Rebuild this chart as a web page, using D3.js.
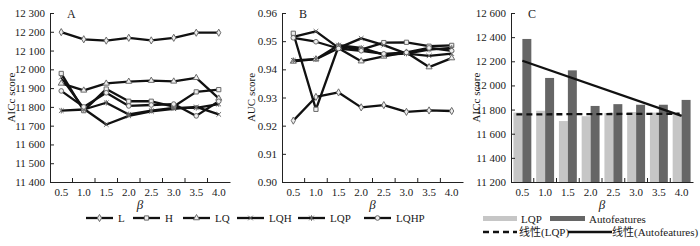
<!DOCTYPE html>
<html>
<head>
<meta charset="utf-8">
<script src="https://cdn.jsdelivr.net/npm/d3@7"></script>
<style>
  body { margin: 0; background: #fff; }
  svg text { font-family: "Liberation Serif", "Times New Roman", "Noto Sans CJK SC", serif; fill: #1a1a1a; }
</style>
</head>
<body>
<svg id="chart" width="700" height="246"></svg>
<script>
// beta values shared by all three panels
const betas = ["0.5", "1.0", "1.5", "2.0", "2.5", "3.0", "3.5", "4.0"];
const seriesNames = ["L", "H", "LQ", "LQH", "LQP", "LQHP"];
const markerShapes = ["diamond", "square", "triangle", "x", "asterisk", "circle"];

// panel A: AICc score
const aicL = [12198, 12160, 12153, 12168, 12154, 12168, 12195, 12195];
const aicH = [11978, 11780, 11895, 11830, 11830, 11802, 11880, 11892];
const aicLQ = [11925, 11888, 11925, 11935, 11940, 11936, 11955, 11845];
const aicLQH = [11958, 11790, 11706, 11752, 11776, 11790, 11800, 11760];
const aicLQP = [11780, 11786, 11822, 11760, 11780, 11795, 11795, 11815];
const aicLQHP = [11885, 11800, 11875, 11805, 11810, 11815, 11752, 11830];
const aicTicks = [11400, 11500, 11600, 11700, 11800, 11900, 12000, 12100, 12200, 12300];

// panel B: AUC score
const aucL = [0.9218, 0.9302, 0.9318, 0.9265, 0.9273, 0.9249, 0.9254, 0.9252];
const aucH = [0.9528, 0.9258, 0.9482, 0.9470, 0.9495, 0.9496, 0.9482, 0.9485];
const aucLQ = [0.9428, 0.9436, 0.9475, 0.9429, 0.9446, 0.9460, 0.9408, 0.9440];
const aucLQH = [0.9515, 0.9535, 0.9476, 0.9510, 0.9486, 0.9456, 0.9448, 0.9456];
const aucLQP = [0.9432, 0.9436, 0.9486, 0.9476, 0.9452, 0.9456, 0.9470, 0.9476];
const aucLQHP = [0.9512, 0.9498, 0.9474, 0.9466, 0.9455, 0.9460, 0.9476, 0.9466];
const aucTicks = [0.90, 0.91, 0.92, 0.93, 0.94, 0.95, 0.96];

// panel C: bars
const barLQP = [11775, 11790, 11705, 11745, 11772, 11780, 11775, 11760];
const barAuto = [12385, 12062, 12125, 11830, 11845, 11840, 11840, 11880];
const barTicks = [11200, 11400, 11600, 11800, 12000, 12200, 12400, 12600];

const lightGrey = "#c6c6c6";
const darkGrey = "#666666";
const lineColor = "#111";
const markerStroke = "#6a6a6a";

const svg = d3.select("svg#chart");
const fmtAic = d3.formatLocale({ decimal: ".", thousands: " ", grouping: [3], currency: ["", ""] }).format(",d");
const fmtAuc = d3.format(".2f");

const plotTop = 13;
const plotBottom = 182;

// draw marker symbols centred at 0,0
function markerPath(shape) {
  const r = 2.3;
  if (shape === "diamond") return d3.symbol(d3.symbolDiamond, 15)();
  if (shape === "square") return d3.symbol(d3.symbolSquare, 18)();
  if (shape === "triangle") return d3.symbol(d3.symbolTriangle, 16)();
  if (shape === "circle") return d3.symbol(d3.symbolCircle, 17)();
  if (shape === "x") return `M${-r},${-r}L${r},${r}M${-r},${r}L${r},${-r}`;
  // asterisk
  return `M${-r},${-r}L${r},${r}M${-r},${r}L${r},${-r}M0,${-r - 0.5}L0,${r + 0.5}`;
}

function drawAxes(g, x, y, ticks, fmt, yLabel, labelX, letter) {
  const left = x.range()[0];
  const right = x.range()[1];

  g.append("g")
    .attr("transform", `translate(${left},0)`)
    .call(d3.axisLeft(y).tickValues(ticks).tickFormat(fmt).tickSize(-4).tickSizeOuter(0).tickPadding(5))
    .call((a) => a.selectAll("text").attr("font-size", 11).attr("font-family", null))
    .call((a) => a.selectAll("line, path").attr("stroke", "#222"));

  g.append("g")
    .attr("transform", `translate(0,${plotBottom})`)
    .call(d3.axisBottom(x).tickSize(0).tickSizeOuter(0).tickPadding(6))
    .call((a) => a.selectAll("text").attr("font-size", 11).attr("font-family", null))
    .call((a) => a.select("path").attr("stroke", "#222"));

  // ticks sit between the beta categories, pointing inward
  g.selectAll("line.xtick")
    .data(betas.slice(1))
    .join("line")
    .attr("class", "xtick")
    .attr("x1", (d) => x(d))
    .attr("x2", (d) => x(d))
    .attr("y1", plotBottom)
    .attr("y2", plotBottom - 4)
    .attr("stroke", "#222");

  g.append("text")
    .attr("transform", `translate(${labelX},${(plotTop + plotBottom) / 2}) rotate(-90)`)
    .attr("text-anchor", "middle")
    .attr("dominant-baseline", "central")
    .attr("font-size", 11)
    .text(yLabel);

  g.append("text")
    .attr("x", left + 17)
    .attr("y", plotTop + 1)
    .attr("dominant-baseline", "central")
    .attr("font-size", 12)
    .text(letter);

  g.append("text")
    .attr("x", (left + right) / 2)
    .attr("y", 204)
    .attr("text-anchor", "middle")
    .attr("dominant-baseline", "central")
    .attr("font-size", 13)
    .attr("font-style", "italic")
    .text("β");
}

function drawLinePanel(left, width, domain, ticks, fmt, yLabel, labelX, letter, series) {
  const x = d3.scaleBand().domain(betas).range([left, left + width]);
  const y = d3.scaleLinear().domain(domain).range([plotBottom, plotTop]);
  const g = svg.append("g");
  drawAxes(g, x, y, ticks, fmt, yLabel, labelX, letter);

  const line = d3.line()
    .x((d, i) => x(betas[i]) + x.bandwidth() / 2)
    .y((d) => y(d));

  series.forEach((vals) => {
    g.append("path")
      .attr("d", line(vals))
      .attr("fill", "none")
      .attr("stroke", lineColor)
      .attr("stroke-width", 2.3)
      .attr("stroke-linejoin", "round");
  });
  series.forEach((vals, si) => {
    g.selectAll(null)
      .data(vals)
      .join("path")
      .attr("transform", (d, i) => `translate(${x(betas[i]) + x.bandwidth() / 2},${y(d)})`)
      .attr("d", markerPath(markerShapes[si]))
      .attr("fill", "#eee")
      .attr("stroke", markerStroke)
      .attr("stroke-width", 1);
  });
}

drawLinePanel(50, 180, [11400, 12300], aicTicks, fmtAic, "AICc score", 11, "A",
  [aicL, aicH, aicLQ, aicLQH, aicLQP, aicLQHP]);
drawLinePanel(282, 181, [0.90, 0.96], aucTicks, fmtAuc, "AUC score", 251, "B",
  [aucL, aucH, aucLQ, aucLQH, aucLQP, aucLQHP]);

// panel C: grouped bars with linear trend lines
const xC = d3.scaleBand().domain(betas).range([511, 693]);
const xInner = d3.scaleBand().domain(["LQP", "Autofeatures"]).range([0, xC.bandwidth()]).paddingOuter(0.27);
const yC = d3.scaleLinear().domain([11200, 12600]).range([plotBottom, plotTop]);
const gC = svg.append("g");

gC.selectAll("rect.lqp")
  .data(barLQP)
  .join("rect")
  .attr("class", "lqp")
  .attr("x", (d, i) => xC(betas[i]) + xInner("LQP"))
  .attr("width", xInner.bandwidth())
  .attr("y", (d) => yC(d))
  .attr("height", (d) => plotBottom - yC(d))
  .attr("fill", lightGrey);

gC.selectAll("rect.auto")
  .data(barAuto)
  .join("rect")
  .attr("class", "auto")
  .attr("x", (d, i) => xC(betas[i]) + xInner("Autofeatures"))
  .attr("width", xInner.bandwidth())
  .attr("y", (d) => yC(d))
  .attr("height", (d) => plotBottom - yC(d))
  .attr("fill", darkGrey);

// least squares fit over the category index
function linearFit(vals) {
  const n = vals.length;
  const xs = vals.map((d, i) => i);
  const mx = d3.mean(xs);
  const my = d3.mean(vals);
  const slope = d3.sum(xs, (v, i) => (v - mx) * (vals[i] - my)) / d3.sum(xs, (v) => (v - mx) ** 2);
  return [my - slope * mx, my + slope * (n - 1 - mx)];
}

const fitLQP = linearFit(barLQP);
const fitAuto = linearFit(barAuto);
const cx0 = xC(betas[0]) + xC.bandwidth() / 2;
const cx1 = xC(betas[betas.length - 1]) + xC.bandwidth() / 2;

gC.append("line")
  .attr("x1", cx0 - 6).attr("x2", cx1 - 2)
  .attr("y1", yC(fitLQP[0])).attr("y2", yC(fitLQP[1]))
  .attr("stroke", lineColor).attr("stroke-width", 2.3)
  .attr("stroke-dasharray", "6,4");

gC.append("line")
  .attr("x1", cx0).attr("x2", cx1)
  .attr("y1", yC(fitAuto[0])).attr("y2", yC(fitAuto[1]))
  .attr("stroke", lineColor).attr("stroke-width", 2.3);

drawAxes(gC, xC, yC, barTicks, fmtAic, "AICc score", 476, "C");

// legend for panels A and B
const legendXs = [86, 133, 183, 237, 298, 364];
const legend = svg.append("g");
seriesNames.forEach((name, i) => {
  const lx = legendXs[i];
  legend.append("line")
    .attr("x1", lx).attr("x2", lx + 27)
    .attr("y1", 218).attr("y2", 218)
    .attr("stroke", lineColor).attr("stroke-width", 2.3);
  legend.append("path")
    .attr("transform", `translate(${lx + 13.5},218)`)
    .attr("d", markerPath(markerShapes[i]))
    .attr("fill", "#eee").attr("stroke", markerStroke).attr("stroke-width", 1);
  legend.append("text")
    .attr("x", lx + 32).attr("y", 218)
    .attr("dominant-baseline", "central")
    .attr("font-size", 11)
    .text(name);
});

// legend for panel C
const legC = svg.append("g");
legC.append("rect").attr("x", 483).attr("y", 216).attr("width", 34).attr("height", 5).attr("fill", lightGrey);
legC.append("text").attr("x", 521).attr("y", 219).attr("dominant-baseline", "central").attr("font-size", 11).text("LQP");
legC.append("rect").attr("x", 550).attr("y", 216).attr("width", 35).attr("height", 5).attr("fill", darkGrey);
legC.append("text").attr("x", 589).attr("y", 219).attr("dominant-baseline", "central").attr("font-size", 11).text("Autofeatures");

legC.append("line").attr("x1", 483).attr("x2", 517).attr("y1", 232).attr("y2", 232)
  .attr("stroke", lineColor).attr("stroke-width", 2.3).attr("stroke-dasharray", "6,4");
legC.append("text").attr("x", 519).attr("y", 232).attr("dominant-baseline", "central").attr("font-size", 11).text("线性(LQP)");
legC.append("line").attr("x1", 568).attr("x2", 612).attr("y1", 232).attr("y2", 232)
  .attr("stroke", lineColor).attr("stroke-width", 2.3);
legC.append("text").attr("x", 612).attr("y", 232).attr("dominant-baseline", "central").attr("font-size", 11).text("线性(Autofeatures)");
</script>
</body>
</html>
